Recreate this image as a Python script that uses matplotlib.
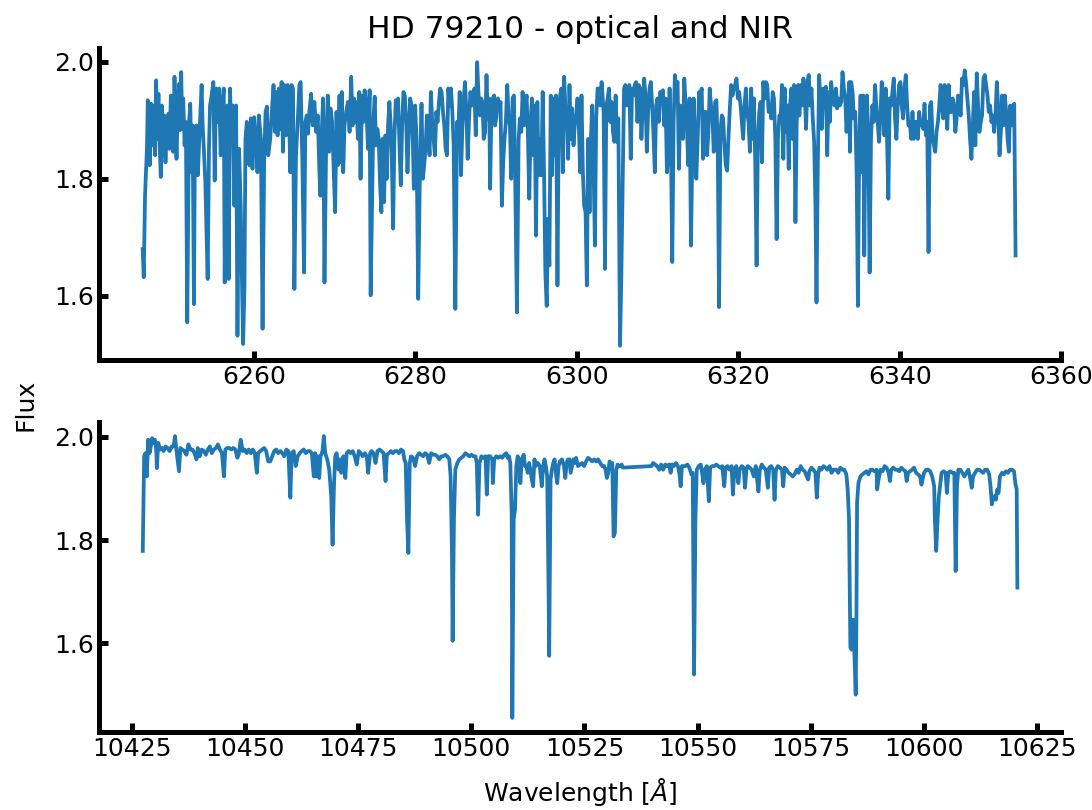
import matplotlib
matplotlib.use("Agg")
import matplotlib.pyplot as plt

# optical segment
opt_wave = [
    6246.23, 6246.36, 6246.52, 6246.65, 6246.77, 6246.86, 6246.98, 6247.10, 6247.27, 6247.44,
    6247.60, 6247.77, 6247.89, 6248.02, 6248.18, 6248.35, 6248.47, 6248.60, 6248.76, 6248.89,
    6249.05, 6249.26, 6249.43, 6249.55, 6249.72, 6249.88, 6250.01, 6250.17, 6250.30, 6250.42,
    6250.59, 6250.75, 6250.88, 6251.00, 6251.13, 6251.25, 6251.42, 6251.58, 6251.75, 6251.96,
    6252.12, 6252.29, 6252.41, 6252.58, 6252.70, 6252.87, 6253.07, 6253.24, 6253.41, 6253.53,
    6253.66, 6253.82, 6253.99, 6254.28, 6254.44, 6254.57, 6254.77, 6254.98, 6255.15, 6255.31,
    6255.48, 6255.69, 6255.89, 6256.10, 6256.27, 6256.39, 6256.56, 6256.72, 6256.89, 6257.05,
    6257.22, 6257.39, 6257.59, 6257.80, 6257.97, 6258.17, 6258.38, 6258.51, 6258.67, 6258.84,
    6258.96, 6259.13, 6259.29, 6259.46, 6259.63, 6259.83, 6260.04, 6260.25, 6260.45, 6260.62,
    6260.87, 6261.08, 6261.28, 6261.45, 6261.62, 6261.78, 6262.03, 6262.20, 6262.44, 6262.61,
    6262.78, 6262.94, 6263.11, 6263.27, 6263.44, 6263.61, 6263.77, 6263.98, 6264.19, 6264.35,
    6264.52, 6264.68, 6264.85, 6265.02, 6265.22, 6265.43, 6265.64, 6265.80, 6266.01, 6266.22,
    6266.38, 6266.55, 6266.71, 6266.88, 6267.09, 6267.30, 6267.50, 6267.71, 6267.92, 6268.12,
    6268.25, 6268.41, 6268.58, 6268.75, 6268.95, 6269.16, 6269.33, 6269.49, 6269.70, 6269.87,
    6270.07, 6270.24, 6270.40, 6270.61, 6270.74, 6270.90, 6271.07, 6271.23, 6271.44, 6271.65,
    6271.86, 6272.06, 6272.23, 6272.39, 6272.56, 6272.73, 6272.89, 6273.06, 6273.22, 6273.39,
    6273.56, 6273.72, 6273.93, 6274.14, 6274.34, 6274.47,
    6274.80, 6274.97, 6275.13, 6275.30, 6275.47, 6275.63, 6275.80, 6275.96, 6276.13, 6276.30,
    6276.46, 6276.63, 6276.79, 6276.96, 6277.08, 6277.25, 6277.41, 6277.58, 6277.75, 6277.87,
    6278.04, 6278.20, 6278.37, 6278.53, 6278.70, 6278.87, 6279.03, 6279.20, 6279.36, 6279.53,
    6279.69, 6279.82, 6279.98, 6280.15, 6280.36, 6280.57, 6280.77, 6280.94, 6281.10, 6281.27,
    6281.44, 6281.60, 6281.77, 6281.93, 6282.10, 6282.27, 6282.43, 6282.60, 6282.76, 6282.93,
    6283.09, 6283.26, 6283.43, 6283.59, 6283.76, 6283.92, 6284.09, 6284.26, 6284.42, 6284.59,
    6284.75, 6284.96, 6285.17, 6285.33, 6285.50, 6285.66, 6285.83, 6286.00, 6286.16, 6286.33,
    6286.49, 6286.66, 6286.83, 6286.99, 6287.16, 6287.32, 6287.49, 6287.66, 6287.82, 6287.99,
    6288.15, 6288.32, 6288.48, 6288.65, 6288.82, 6288.98, 6289.15, 6289.27, 6289.44, 6289.60,
    6289.77, 6289.89, 6290.06, 6290.23, 6290.39, 6290.56, 6290.72, 6290.89, 6291.05, 6291.22,
    6291.39, 6291.55, 6291.72, 6291.88, 6292.05, 6292.22, 6292.38, 6292.59, 6292.80, 6292.96,
    6293.13, 6293.29, 6293.46, 6293.63, 6293.79, 6293.96, 6294.12, 6294.29, 6294.45, 6294.62,
    6294.79, 6294.95, 6295.12, 6295.28, 6295.45, 6295.62, 6295.78, 6295.95, 6296.11, 6296.28,
    6296.44, 6296.61, 6296.78, 6296.94, 6297.11, 6297.27, 6297.44, 6297.61, 6297.77, 6297.94,
    6298.10, 6298.27, 6298.43, 6298.60, 6298.77, 6298.93, 6299.10, 6299.26, 6299.43, 6299.60,
    6299.76, 6299.93, 6300.09, 6300.26, 6300.42, 6300.59, 6300.76, 6300.92, 6301.09, 6301.25,
    6301.42, 6301.59, 6301.75, 6301.92, 6302.08, 6302.25, 6302.41, 6302.58, 6302.75, 6302.91, 6303.08,
    6303.33, 6303.50, 6303.66, 6303.83, 6303.99, 6304.16, 6304.32, 6304.49, 6304.66, 6304.82,
    6304.99, 6305.15, 6305.36, 6305.53, 6305.69, 6305.86, 6306.02, 6306.19, 6306.36, 6306.52,
    6306.69, 6306.85, 6307.02, 6307.19, 6307.35, 6307.52, 6307.68, 6307.85, 6308.01, 6308.18,
    6308.35, 6308.51, 6308.68, 6308.84, 6309.01, 6309.18, 6309.34, 6309.51, 6309.67, 6309.84,
    6310.00, 6310.17, 6310.34, 6310.50, 6310.67, 6310.83, 6311.00, 6311.17, 6311.33, 6311.50,
    6311.66, 6311.83, 6312.00, 6312.16, 6312.33, 6312.49, 6312.66, 6312.82, 6312.99, 6313.16,
    6313.32, 6313.49, 6313.65, 6313.82, 6313.98, 6314.15, 6314.32, 6314.48, 6314.65, 6314.81,
    6314.98, 6315.15, 6315.31, 6315.48, 6315.64, 6315.81, 6315.97, 6316.14, 6316.31, 6316.47,
    6316.64, 6316.80, 6316.97, 6317.14, 6317.30, 6317.47, 6317.63, 6317.80, 6317.97, 6318.13,
    6318.30, 6318.46, 6318.63, 6318.79, 6318.96, 6319.13, 6319.29, 6319.46, 6319.62, 6319.79,
    6319.96, 6320.12, 6320.29, 6320.45, 6320.62, 6320.78, 6320.95, 6321.12, 6321.28, 6321.45,
    6321.61, 6321.78, 6321.94, 6322.11, 6322.28, 6322.44, 6322.61, 6322.77, 6322.94, 6323.11,
    6323.27, 6323.44, 6323.60, 6323.77, 6323.94, 6324.10, 6324.27, 6324.43, 6324.60, 6324.76,
    6324.93, 6325.10, 6325.26, 6325.43, 6325.59, 6325.76, 6325.93, 6326.09, 6326.26, 6326.42,
    6326.59, 6326.75, 6326.92, 6327.09, 6327.25, 6327.42, 6327.58, 6327.75, 6327.92, 6328.08,
    6328.25, 6328.41, 6328.58, 6328.74, 6328.91, 6329.08, 6329.24, 6329.41, 6329.57, 6329.70,
    6329.86, 6330.03, 6330.20, 6330.36, 6330.53, 6330.69, 6330.86, 6331.03, 6331.19, 6331.36, 6331.52, 6331.69,
    6331.93, 6332.10, 6332.26, 6332.43, 6332.59, 6332.76, 6332.92, 6333.09, 6333.26, 6333.42,
    6333.59, 6333.75, 6333.84, 6334.00, 6334.17, 6334.33, 6334.50, 6334.67, 6334.83, 6335.00,
    6335.16, 6335.33, 6335.50, 6335.62, 6335.79, 6335.95, 6336.12, 6336.28, 6336.45, 6336.62,
    6336.78, 6336.95, 6337.11, 6337.28, 6337.44, 6337.61, 6337.78, 6337.94, 6338.11, 6338.27,
    6338.44, 6338.60, 6338.77, 6338.94, 6339.10, 6339.27, 6339.43, 6339.60, 6339.76, 6339.93,
    6340.10, 6340.26, 6340.43, 6340.59, 6340.76, 6340.93, 6341.09, 6341.26, 6341.42, 6341.59,
    6341.75, 6341.92, 6342.09, 6342.25, 6342.42, 6342.58, 6342.75, 6342.92, 6343.08, 6343.25,
    6343.41, 6343.58, 6343.75, 6343.91, 6344.08, 6344.24, 6344.41, 6344.57, 6344.74, 6344.91,
    6345.07, 6345.24, 6345.40, 6345.57, 6345.74, 6345.90, 6346.07, 6346.23, 6346.40, 6346.56,
    6346.73, 6346.90, 6347.06, 6347.23, 6347.39, 6347.56, 6347.73, 6347.89, 6348.06, 6348.22,
    6348.39, 6348.56, 6348.72, 6348.89, 6349.05, 6349.22, 6349.38, 6349.55, 6349.72, 6349.88,
    6350.05, 6350.21, 6350.38, 6350.55, 6350.71, 6350.88, 6351.04, 6351.21, 6351.37, 6351.54,
    6351.71, 6351.87, 6352.04, 6352.20, 6352.37, 6352.54, 6352.70, 6352.87, 6353.03, 6353.20,
    6353.37, 6353.53, 6353.70, 6353.86, 6354.03, 6354.19, 6354.36,
]
opt_flux = [
    1.680, 1.632, 1.771, 1.817, 1.857, 1.934, 1.891, 1.823, 1.928, 1.857,
    1.925, 1.840, 1.968, 1.868, 1.945, 1.851, 1.803, 1.925, 1.840, 1.908,
    1.828, 1.897, 1.911, 1.851, 1.942, 1.891, 1.846, 1.974, 1.908, 1.834,
    1.925, 1.962, 1.883, 1.982, 1.885, 1.937, 1.857, 1.897, 1.555, 1.891,
    1.928, 1.811, 1.891, 1.586, 1.868, 1.891, 1.806, 1.868, 1.920, 1.960,
    1.891, 1.846, 1.794, 1.629, 1.851, 1.925, 1.942, 1.965, 1.797, 1.954,
    1.897, 1.954, 1.840, 1.925, 1.954, 1.623, 1.880, 1.925, 1.629, 1.954,
    1.868, 1.925, 1.754, 1.925, 1.532, 1.851, 1.749, 1.640, 1.518, 1.618,
    1.868, 1.897, 1.840, 1.823, 1.903, 1.817, 1.905, 1.863, 1.811, 1.908,
    1.868, 1.544, 1.834, 1.914, 1.923, 1.840, 1.868, 1.908, 1.960, 1.880,
    1.948, 1.874, 1.954, 1.885, 1.965, 1.846, 1.960, 1.874, 1.960, 1.914,
    1.811, 1.960, 1.954, 1.612, 1.840, 1.897, 1.960, 1.965, 1.828, 1.640,
    1.897, 1.908, 1.877, 1.914, 1.945, 1.891, 1.931, 1.880, 1.908, 1.811,
    1.771, 1.880, 1.937, 1.623, 1.851, 1.942, 1.846, 1.920, 1.897, 1.823,
    1.743, 1.914, 1.823, 1.942, 1.828, 1.948, 1.811, 1.891, 1.914, 1.931,
    1.880, 1.974, 1.891, 1.937, 1.897, 1.931, 1.868, 1.948, 1.800, 1.942,
    1.897, 1.951, 1.925, 1.851, 1.951, 1.601,
    1.897, 1.940, 1.857, 1.885, 1.868, 1.794, 1.743, 1.868, 1.760, 1.874,
    1.800, 1.891, 1.931, 1.891, 1.840, 1.715, 1.868, 1.934, 1.925, 1.937,
    1.857, 1.789, 1.891, 1.948, 1.942, 1.897, 1.811, 1.880, 1.937, 1.925,
    1.868, 1.783, 1.925, 1.868, 1.595, 1.811, 1.928, 1.800, 1.823, 1.851,
    1.908, 1.874, 1.840, 1.948, 1.897, 1.868, 1.840, 1.914, 1.897, 1.931,
    1.954, 1.948, 1.914, 1.891, 1.851, 1.840, 1.954, 1.925, 1.954, 1.914,
    1.857, 1.578, 1.897, 1.880, 1.948, 1.806, 1.885, 1.937, 1.965, 1.914,
    1.834, 1.903, 1.948, 1.925, 1.931, 1.954, 1.874, 1.999, 1.948, 1.908,
    1.937, 1.931, 1.868, 1.880, 1.977, 1.903, 1.937, 1.783, 1.925, 1.937,
    1.942, 1.891, 1.908, 1.937, 1.920, 1.931, 1.754, 1.828, 1.868, 1.897,
    1.960, 1.908, 1.891, 1.800, 1.937, 1.942, 1.794, 1.572, 1.868, 1.903,
    1.880, 1.948, 1.891, 1.925, 1.942, 1.868, 1.766, 1.897, 1.937, 1.840,
    1.925, 1.703, 1.931, 1.806, 1.868, 1.806, 1.948, 1.811, 1.640, 1.583,
    1.732, 1.652, 1.942, 1.806, 1.937, 1.840, 1.942, 1.618, 1.897, 1.942,
    1.954, 1.811, 1.974, 1.920, 1.903, 1.834, 1.960, 1.868, 1.920, 1.857,
    1.891, 1.908, 1.937, 1.891, 1.811, 1.942, 1.811, 1.754, 1.743, 1.618,
    1.868, 1.743, 1.868, 1.925, 1.823, 1.686, 1.903, 1.954, 1.954, 1.925, 1.965,
    1.914, 1.646, 1.925, 1.937, 1.954, 1.897, 1.931, 1.880, 1.863, 1.942,
    1.863, 1.903, 1.515, 1.640, 1.789, 1.954, 1.960, 1.925, 1.954, 1.960,
    1.834, 1.954, 1.942, 1.960, 1.965, 1.897, 1.960, 1.954, 1.868, 1.925,
    1.971, 1.942, 1.846, 1.914, 1.954, 1.965, 1.925, 1.874, 1.811, 1.925,
    1.937, 1.897, 1.948, 1.942, 1.951, 1.891, 1.937, 1.811, 1.846, 1.954,
    1.868, 1.658, 1.897, 1.977, 1.954, 1.965, 1.817, 1.925, 1.891, 1.868,
    1.971, 1.925, 1.885, 1.823, 1.937, 1.686, 1.846, 1.937, 1.868, 1.800,
    1.868, 1.948, 1.942, 1.954, 1.834, 1.914, 1.914, 1.840, 1.880, 1.954,
    1.925, 1.908, 1.846, 1.931, 1.934, 1.851, 1.581, 1.880, 1.908, 1.903,
    1.857, 1.823, 1.814, 1.868, 1.920, 1.960, 1.942, 1.954, 1.960, 1.971,
    1.937, 1.948, 1.925, 1.897, 1.868, 1.925, 1.954, 1.914, 1.897, 1.846,
    1.954, 1.868, 1.937, 1.828, 1.652, 1.868, 1.914, 1.931, 1.828, 1.965,
    1.937, 1.965, 1.960, 1.914, 1.925, 1.903, 1.948, 1.937, 1.868, 1.697,
    1.868, 1.908, 1.903, 1.960, 1.834, 1.954, 1.880, 1.925, 1.817, 1.925,
    1.954, 1.868, 1.960, 1.726, 1.897, 1.960, 1.908, 1.960, 1.925, 1.971,
    1.942, 1.885, 1.965, 1.977, 1.925, 1.954, 1.903, 1.863, 1.754, 1.589,
    1.823, 1.977, 1.925, 1.885, 1.954, 1.948, 1.957, 1.840, 1.948, 1.897, 1.965, 1.937,
    1.925, 1.954, 1.920, 1.937, 1.925, 1.931, 1.982, 1.954, 1.937, 1.880,
    1.925, 1.965, 1.846, 1.965, 1.948, 1.903, 1.914, 1.811, 1.583, 1.868,
    1.942, 1.811, 1.942, 1.669, 1.925, 1.942, 1.868, 1.640, 1.868, 1.925,
    1.897, 1.960, 1.925, 1.897, 1.863, 1.903, 1.965, 1.925, 1.874, 1.954,
    1.868, 1.766, 1.937, 1.925, 1.948, 1.971, 1.903, 1.868, 1.925, 1.960,
    1.965, 1.925, 1.903, 1.954, 1.977, 1.925, 1.891, 1.897, 1.868, 1.914,
    1.868, 1.897, 1.897, 1.868, 1.914, 1.891, 1.897, 1.885, 1.928, 1.874,
    1.897, 1.675, 1.925, 1.931, 1.868, 1.857, 1.846, 1.880, 1.897, 1.925,
    1.960, 1.925, 1.903, 1.960, 1.937, 1.885, 1.960, 1.914, 1.914, 1.937,
    1.925, 1.880, 1.903, 1.942, 1.925, 1.908, 1.971, 1.960, 1.985, 1.965,
    1.937, 1.908, 1.868, 1.834, 1.891, 1.948, 1.857, 1.980, 1.925, 1.880,
    1.897, 1.908, 1.971, 1.977, 1.960, 1.942, 1.914, 1.925, 1.897, 1.908,
    1.880, 1.908, 1.965, 1.925, 1.840, 1.880, 1.942, 1.891, 1.942, 1.914,
    1.868, 1.846, 1.925, 1.891, 1.925, 1.928, 1.669,
]

# near-infrared segment (lower panel)
nir_wave = [
    10427.43, 10427.73, 10428.03, 10428.32, 10428.62, 10428.92, 10429.21, 10429.51, 10429.81, 10430.10,
    10430.40, 10430.55, 10430.84, 10431.29, 10431.66, 10432.03, 10432.47, 10432.92, 10433.36, 10433.81,
    10434.25, 10434.55, 10434.84, 10435.43, 10435.73, 10436.18, 10436.62, 10437.06, 10437.51, 10437.95,
    10438.40, 10438.84, 10439.29, 10439.58, 10440.03, 10440.47, 10440.92, 10441.36, 10441.81, 10442.25,
    10442.69, 10443.14, 10443.58, 10444.03, 10444.47, 10444.92, 10445.36, 10445.66, 10446.10, 10446.55,
    10446.99, 10447.43, 10447.88, 10448.32, 10448.62, 10449.06, 10449.51, 10449.95, 10450.40, 10450.84,
    10451.29, 10451.73, 10452.18, 10452.62, 10452.92, 10453.36, 10453.81, 10454.25, 10454.69, 10455.14,
    10455.58, 10456.03, 10456.47, 10456.92, 10457.36, 10457.81, 10458.25, 10458.69, 10459.14, 10459.58,
    10460.03, 10460.32, 10460.77, 10461.21, 10461.66, 10462.10, 10462.55, 10462.99, 10463.43, 10463.88,
    10464.32, 10464.77, 10465.21, 10465.51, 10465.81, 10466.10, 10466.40, 10466.69, 10467.14, 10467.43,
    10467.73, 10468.18, 10468.62, 10469.06, 10469.36, 10469.66, 10469.95, 10470.25, 10470.69, 10470.99,
    10471.29, 10471.73, 10472.18, 10472.47, 10472.92, 10473.36, 10473.81, 10474.25, 10474.69, 10475.14,
    10475.58, 10476.03, 10476.47, 10476.92, 10477.21, 10477.66,
    10477.95, 10478.40, 10478.84, 10479.29, 10479.73, 10480.17, 10480.62, 10481.06, 10481.36, 10481.80,
    10482.25, 10482.69, 10483.14, 10483.58, 10484.03, 10484.47, 10484.92, 10485.21, 10485.51, 10485.80,
    10486.10, 10486.40, 10486.69, 10487.14, 10487.58, 10488.03, 10488.47, 10488.92, 10489.36, 10489.80,
    10490.25, 10490.69, 10491.14, 10491.58, 10492.03, 10492.47, 10492.92, 10493.36, 10493.80, 10494.25,
    10494.69, 10495.14, 10495.43, 10495.73, 10495.88, 10496.17, 10496.47, 10496.92, 10497.36, 10497.80,
    10498.25, 10498.69, 10499.14, 10499.58, 10500.03, 10500.47, 10500.92, 10501.21, 10501.51, 10501.80,
    10502.25, 10502.69, 10503.14, 10503.43, 10503.73, 10504.17, 10504.62, 10504.77, 10505.06, 10505.51,
    10505.95, 10506.40, 10506.84, 10507.29, 10507.73, 10508.03, 10508.32, 10508.62, 10508.92, 10509.06,
    10509.36, 10509.66, 10509.95, 10510.25, 10510.54, 10510.84, 10511.14, 10511.58, 10511.88, 10512.17,
    10512.47, 10512.77, 10513.06, 10513.36, 10513.66, 10513.95, 10514.25, 10514.69, 10515.14, 10515.58,
    10515.88, 10516.17, 10516.47, 10516.77, 10517.06, 10517.21, 10517.51, 10517.80, 10518.10, 10518.40,
    10518.69, 10518.99, 10519.29, 10519.58, 10520.03, 10520.47, 10520.77, 10521.06, 10521.36, 10521.66,
    10521.95, 10522.25, 10522.54, 10522.84, 10523.14, 10523.58, 10524.03, 10524.47, 10524.92, 10525.36,
    10525.80, 10526.25, 10526.69, 10527.14, 10527.58, 10528.03, 10528.47, 10528.92,
    10529.36, 10529.65, 10529.95, 10530.25, 10530.54, 10530.84, 10531.14, 10531.43, 10531.73, 10532.03,
    10532.32, 10532.62, 10532.91, 10533.21, 10533.51, 10539.80, 10540.17, 10540.62, 10541.06, 10541.51,
    10541.95, 10542.40, 10542.84, 10543.28, 10543.73, 10544.03, 10544.32, 10544.77, 10545.21, 10545.65,
    10545.95, 10546.25, 10546.54, 10546.84, 10547.28, 10547.73, 10548.17, 10548.62, 10548.91, 10549.21,
    10549.51, 10549.80, 10550.25, 10550.69, 10550.99, 10551.28, 10551.58, 10552.03, 10552.47, 10552.77,
    10553.21, 10553.65, 10554.10, 10554.54, 10554.99, 10555.43, 10555.88, 10556.17, 10556.62, 10557.06,
    10557.51, 10557.80, 10558.10, 10558.54, 10558.99, 10559.28, 10559.73, 10560.17, 10560.47, 10560.77,
    10561.06, 10561.51, 10561.95, 10562.40, 10562.84, 10563.14, 10563.43, 10563.73, 10564.17, 10564.62,
    10565.06, 10565.51, 10565.80, 10566.25, 10566.69, 10566.99, 10567.28, 10567.73, 10568.17, 10568.62,
    10568.91, 10569.21, 10569.65, 10570.10, 10570.54, 10570.99, 10571.43, 10571.88, 10572.32, 10572.77,
    10573.21, 10573.65, 10574.10, 10574.40, 10574.69, 10575.14, 10575.58, 10576.03, 10576.32, 10576.62,
    10576.91, 10577.36, 10577.80, 10578.25, 10578.69, 10579.14, 10579.58, 10580.03,
    10580.63, 10581.07, 10581.52, 10581.96, 10582.40, 10582.85, 10583.15, 10583.44, 10583.74, 10584.03,
    10584.33, 10584.63, 10584.92, 10585.07, 10585.22, 10585.52, 10585.96, 10586.40, 10586.85, 10587.29,
    10587.74, 10588.18, 10588.63, 10589.07, 10589.52, 10589.66, 10589.96, 10590.40, 10590.85, 10591.29,
    10591.74, 10592.18, 10592.48, 10592.77, 10593.22, 10593.66, 10594.11, 10594.55, 10595.00, 10595.44,
    10595.89, 10596.18, 10596.48, 10596.92, 10597.37, 10597.81, 10598.26, 10598.70, 10599.15, 10599.44,
    10599.74, 10600.03, 10600.48, 10600.92, 10601.37, 10601.81, 10602.26, 10602.40, 10602.70, 10603.00,
    10603.29, 10603.59, 10603.89, 10604.33, 10604.77, 10605.07, 10605.37, 10605.81, 10606.26, 10606.70,
    10607.00, 10607.29, 10607.59, 10608.03, 10608.48, 10608.92, 10609.37, 10609.81, 10610.26, 10610.55,
    10610.85, 10611.29, 10611.74, 10612.18, 10612.63, 10613.07, 10613.52, 10613.96, 10614.40, 10614.70,
    10615.00, 10615.29, 10615.59, 10615.89, 10616.18, 10616.48, 10616.77, 10617.22, 10617.66, 10618.11,
    10618.55, 10619.00, 10619.44, 10619.89, 10620.18, 10620.48, 10620.63,
]
nir_flux = [
    1.779, 1.962, 1.968, 1.923, 1.994, 1.968, 1.981, 1.997, 1.988, 1.994,
    1.975, 1.939, 1.988, 1.975, 1.978, 1.972, 1.981, 1.978, 1.972, 1.981,
    1.981, 2.001, 1.975, 1.933, 1.978, 1.975, 1.972, 1.965, 1.985, 1.975,
    1.975, 1.968, 1.956, 1.978, 1.962, 1.975, 1.972, 1.965, 1.975, 1.981,
    1.968, 1.975, 1.978, 1.985, 1.975, 1.968, 1.923, 1.975, 1.978, 1.978,
    1.975, 1.978, 1.975, 1.959, 1.965, 1.994, 1.972, 1.975, 1.968, 1.975,
    1.968, 1.975, 1.968, 1.930, 1.968, 1.972, 1.975, 1.978, 1.972, 1.952,
    1.952, 1.962, 1.972, 1.975, 1.968, 1.972, 1.968, 1.962, 1.975, 1.972,
    1.882, 1.968, 1.972, 1.943, 1.962, 1.968, 1.972, 1.975, 1.968, 1.972,
    1.972, 1.968, 1.923, 1.968, 1.923, 1.962, 1.920, 1.962, 1.972, 2.001,
    1.968, 1.956, 1.936, 1.885, 1.791, 1.904, 1.962, 1.968, 1.936, 1.956,
    1.930, 1.962, 1.920, 1.968, 1.972, 1.968, 1.972, 1.962, 1.946, 1.972,
    1.968, 1.962, 1.968, 1.962, 1.930, 1.968,
    1.972, 1.968, 1.949, 1.972, 1.975, 1.972, 1.968, 1.914, 1.965, 1.968,
    1.972, 1.968, 1.972, 1.972, 1.968, 1.975, 1.972, 1.956, 1.949, 1.840,
    1.775, 1.949, 1.962, 1.959, 1.943, 1.962, 1.968, 1.965, 1.962, 1.968,
    1.965, 1.949, 1.968, 1.965, 1.965, 1.962, 1.956, 1.962, 1.962, 1.965,
    1.962, 1.956, 1.923, 1.775, 1.605, 1.840, 1.936, 1.949, 1.956, 1.959,
    1.962, 1.968, 1.965, 1.962, 1.965, 1.962, 1.962, 1.949, 1.849, 1.949,
    1.962, 1.959, 1.962, 1.888, 1.962, 1.962, 1.956, 1.910, 1.956, 1.962,
    1.959, 1.962, 1.959, 1.965, 1.968, 1.959, 1.962, 1.949, 1.853, 1.456,
    1.840, 1.859, 1.943, 1.962, 1.956, 1.910, 1.956, 1.965, 1.943, 1.943,
    1.930, 1.949, 1.936, 1.917, 1.904, 1.956, 1.943, 1.949, 1.943, 1.904,
    1.943, 1.956, 1.943, 1.923, 1.711, 1.576, 1.917, 1.936, 1.949, 1.956,
    1.930, 1.910, 1.943, 1.952, 1.956, 1.943, 1.920, 1.949, 1.956, 1.956,
    1.930, 1.943, 1.956, 1.949, 1.959, 1.943, 1.946, 1.949, 1.943, 1.952,
    1.959, 1.956, 1.952, 1.956, 1.952, 1.956, 1.949, 1.943,
    1.943, 1.936, 1.920, 1.930, 1.952, 1.949, 1.949, 1.807, 1.814, 1.936,
    1.946, 1.943, 1.943, 1.946, 1.940, 1.943, 1.949, 1.946, 1.943, 1.936,
    1.946, 1.936, 1.946, 1.943, 1.946, 1.930, 1.946, 1.943, 1.949, 1.943,
    1.930, 1.904, 1.943, 1.943, 1.943, 1.946, 1.940, 1.927, 1.930, 1.540,
    1.840, 1.936, 1.943, 1.946, 1.930, 1.910, 1.936, 1.943, 1.875, 1.940,
    1.943, 1.943, 1.946, 1.943, 1.940, 1.943, 1.904, 1.940, 1.943, 1.936,
    1.943, 1.888, 1.936, 1.943, 1.910, 1.936, 1.943, 1.940, 1.901, 1.936,
    1.943, 1.940, 1.936, 1.923, 1.943, 1.917, 1.894, 1.936, 1.946, 1.940,
    1.936, 1.901, 1.940, 1.943, 1.936, 1.878, 1.936, 1.943, 1.940, 1.936,
    1.904, 1.940, 1.936, 1.930, 1.927, 1.923, 1.927, 1.936, 1.930, 1.943,
    1.936, 1.933, 1.923, 1.917, 1.933, 1.940, 1.936, 1.930, 1.882, 1.927,
    1.940, 1.936, 1.943, 1.940, 1.936, 1.943, 1.930, 1.936,
    1.936, 1.930, 1.940, 1.936, 1.936, 1.927, 1.898, 1.840, 1.592, 1.588,
    1.646, 1.582, 1.501, 1.646, 1.872, 1.910, 1.923, 1.927, 1.930, 1.933,
    1.927, 1.936, 1.936, 1.933, 1.936, 1.898, 1.917, 1.936, 1.933, 1.943,
    1.940, 1.930, 1.914, 1.936, 1.940, 1.936, 1.936, 1.933, 1.940, 1.936,
    1.933, 1.914, 1.930, 1.933, 1.936, 1.940, 1.930, 1.927, 1.923, 1.907,
    1.920, 1.930, 1.936, 1.936, 1.933, 1.923, 1.904, 1.840, 1.779, 1.840,
    1.885, 1.907, 1.930, 1.933, 1.930, 1.891, 1.930, 1.933, 1.930, 1.930,
    1.740, 1.904, 1.936, 1.936, 1.930, 1.923, 1.930, 1.936, 1.917, 1.901,
    1.923, 1.930, 1.936, 1.936, 1.933, 1.930, 1.936, 1.936, 1.927, 1.904,
    1.869, 1.882, 1.885, 1.878, 1.898, 1.891, 1.923, 1.930, 1.927, 1.933,
    1.930, 1.936, 1.936, 1.933, 1.910, 1.898, 1.708,
]

opt_xticks = [6260, 6280, 6300, 6320, 6340, 6360]
nir_xticks = [10425, 10450, 10475, 10500, 10525, 10550, 10575, 10600, 10625]
flux_ticks = [1.6, 1.8, 2.0]

plt.rcParams['font.size'] = 18

fig = plt.figure(figsize=(10.92, 8.10), dpi=100)
ax1 = fig.add_axes([0.0907, 0.5556, 0.8810, 0.3852])
ax2 = fig.add_axes([0.0907, 0.0963, 0.8810, 0.3827])

ax1.plot(opt_wave, opt_flux, color='#1f77b4', lw=2.7)
ax2.plot(nir_wave, nir_flux, color='#1f77b4', lw=2.7)

ax1.set_xticks(opt_xticks)
ax2.set_xticks(nir_xticks)

for ax in (ax1, ax2):
    ax.set_yticks(flux_ticks)
    ax.spines['top'].set_visible(False)
    ax.spines['right'].set_visible(False)
    ax.spines['left'].set_linewidth(3.6)
    ax.spines['bottom'].set_linewidth(3.6)
    ax.tick_params(direction='in', length=6.5, width=3.6, labelsize=18)

ax1.set_title('HD 79210 - optical and NIR', fontsize=22.5, pad=7)
ax2.set_xlabel(r'Wavelength [$\AA$]', fontsize=18, labelpad=11)
fig.text(0.023, 0.5, 'Flux', rotation=90, va='center', ha='center', fontsize=18)

fig.savefig('out.png', dpi=100)
